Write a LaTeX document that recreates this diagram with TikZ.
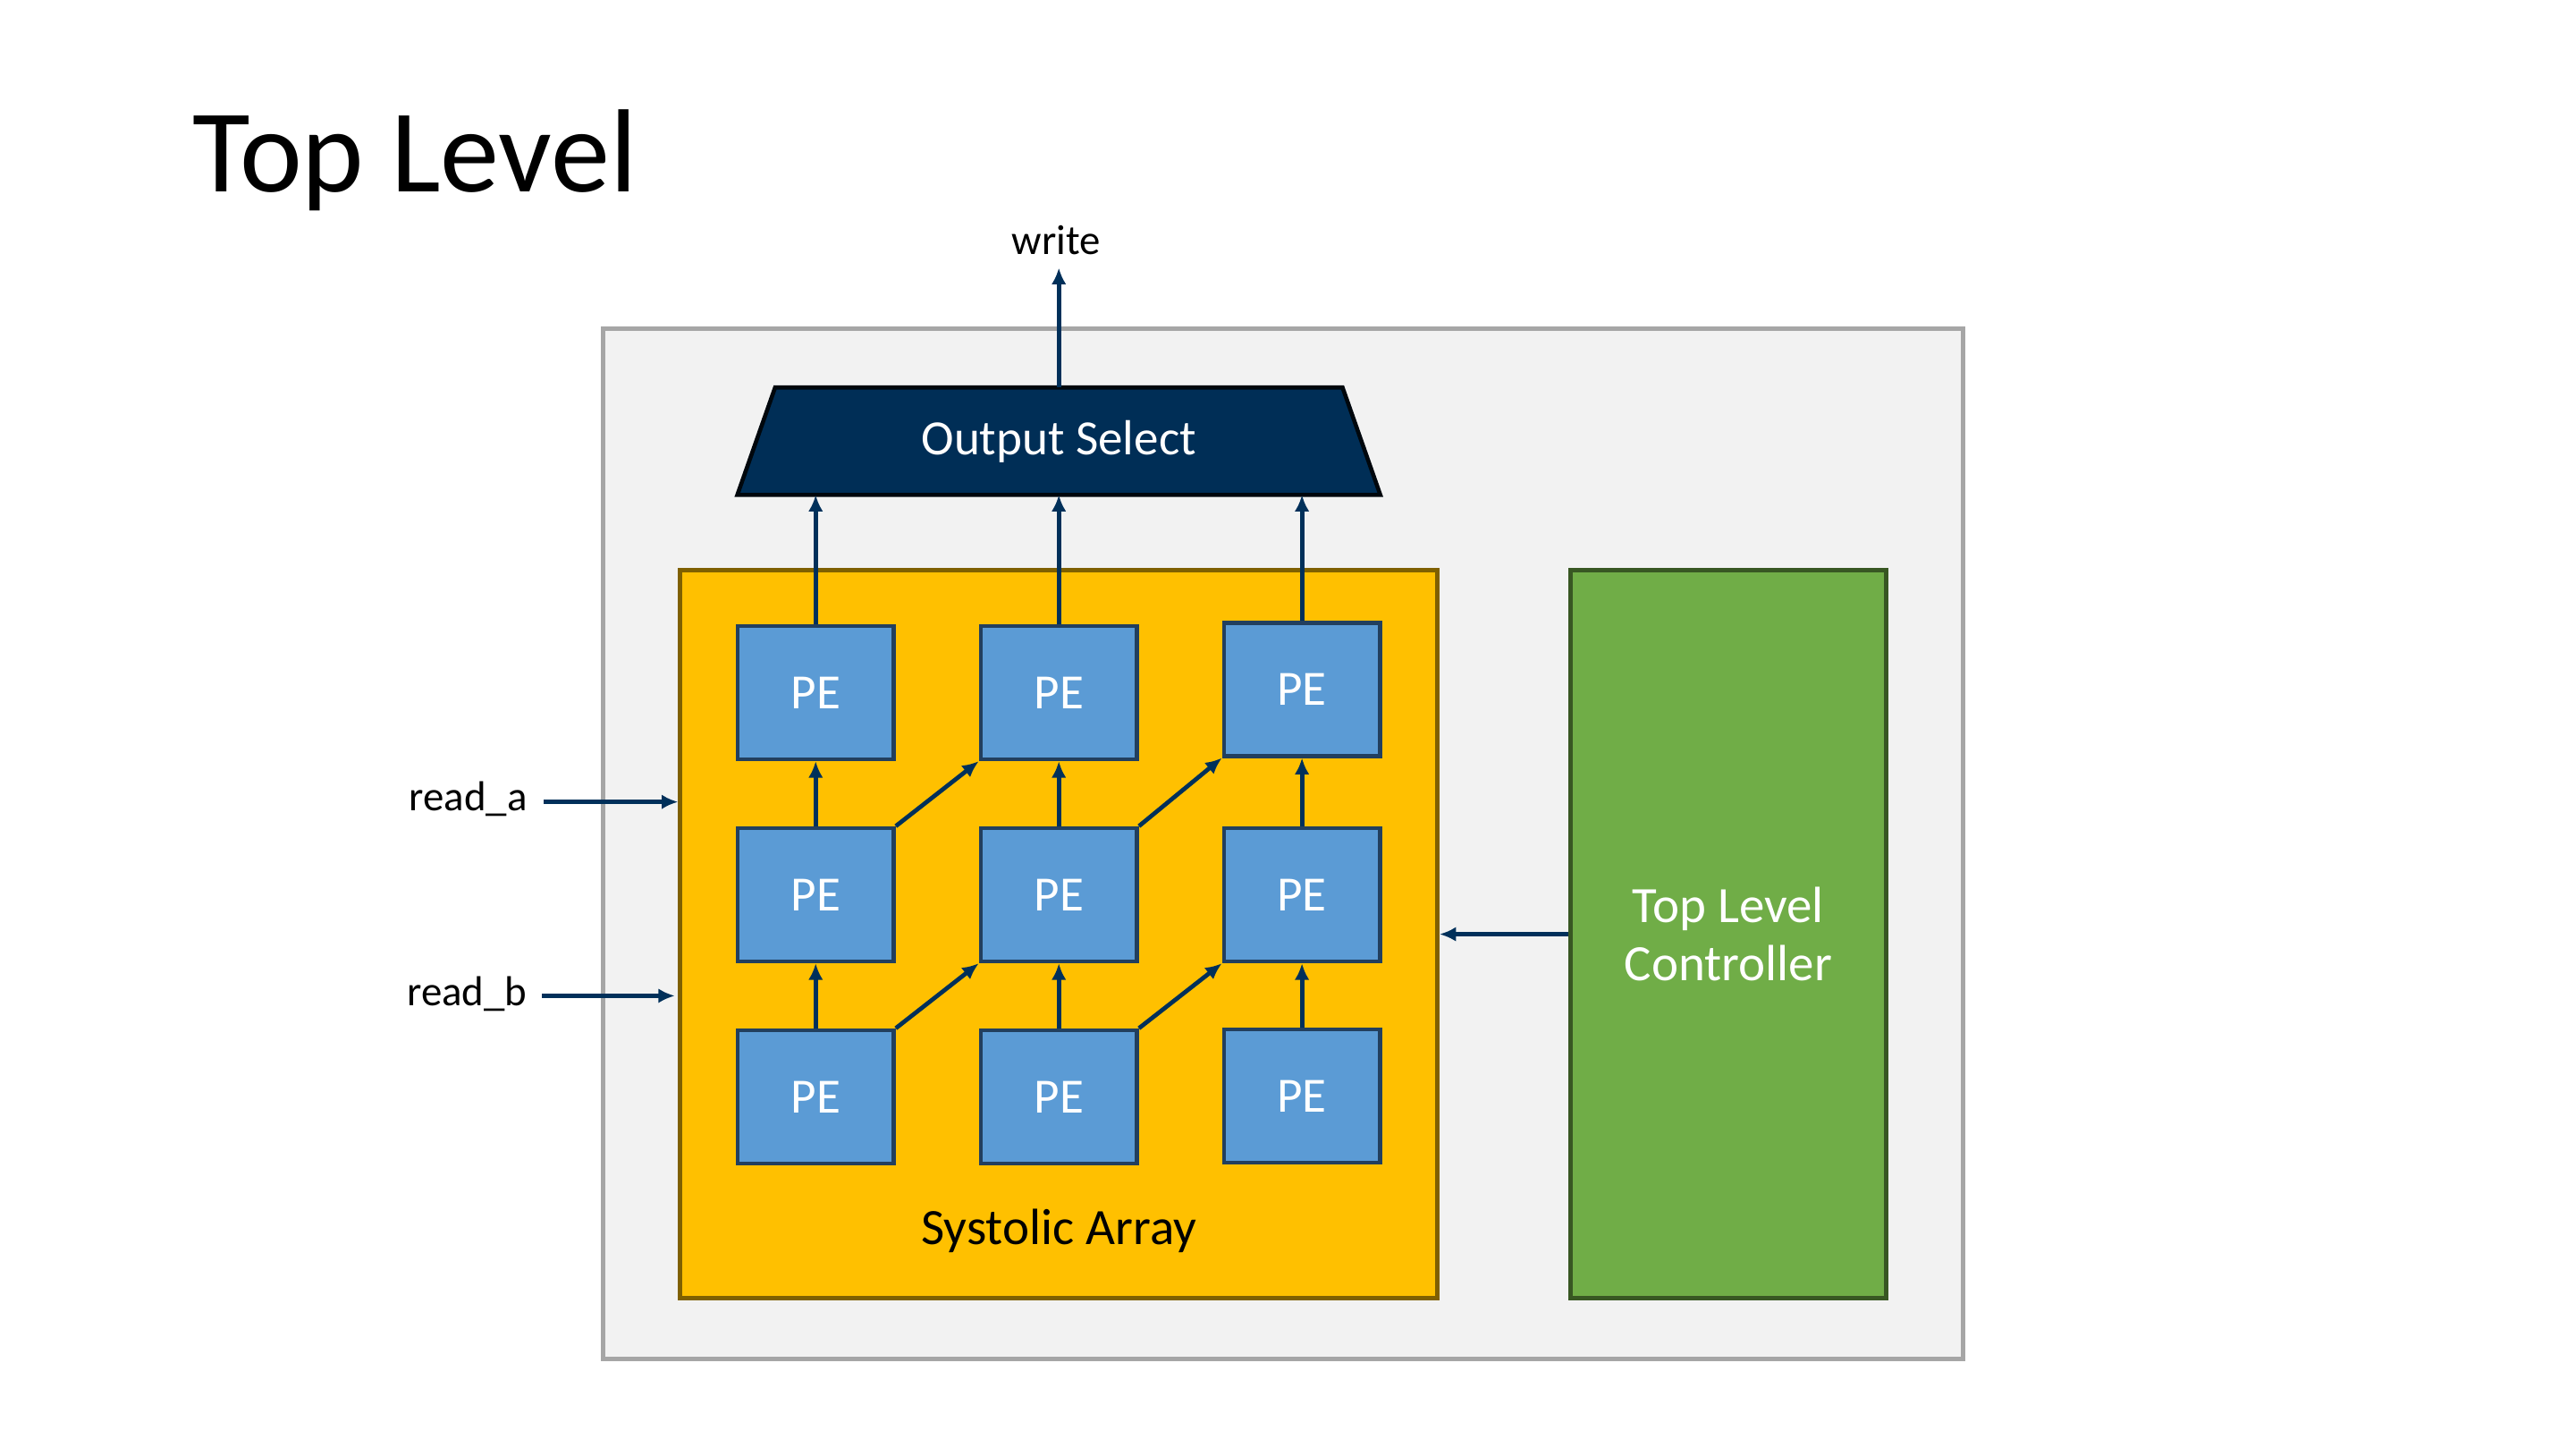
\documentclass[tikz,border=0pt]{standalone}
\usepackage{fontspec}
\setmainfont{Carlito}
\usetikzlibrary{arrows.meta}
\definecolor{navy}{HTML}{00305A}
\definecolor{osfill}{HTML}{002E56}
\definecolor{pefill}{HTML}{5B9BD5}
\definecolor{peborder}{HTML}{223F5E}
\definecolor{safill}{HTML}{FFC000}
\definecolor{saborder}{HTML}{7F6000}
\definecolor{tcfill}{HTML}{70AD47}
\definecolor{tcborder}{HTML}{385723}
\definecolor{outfill}{HTML}{F2F2F2}
\definecolor{outborder}{HTML}{A6A6A6}
\tikzset{
  pebox/.style={draw=peborder, fill=pefill, line width=2.5pt, minimum width=95pt, minimum height=81pt, inner sep=0pt, text=white, font=\fontsize{30}{36}\selectfont},
  conn/.style={draw=navy, line width=2.6pt, -{Latex[length=10pt,width=9pt]}},
  lbl/.style={font=\fontsize{25.5}{30}\selectfont, text=black, inner sep=0pt},
}
\begin{document}
\begin{tikzpicture}[x=1pt,y=-1pt]
\useasboundingbox (0,0) rectangle (1568,875.7);
\fill[white] (0,0) rectangle (1568,875.7);
% title
\node[anchor=base west, inner sep=0pt, font=\fontsize{72}{80}\selectfont] (title) at (117,117) {Top Level};
% outer box
\node[draw=outborder, fill=outfill, line width=2.5pt, minimum width=828pt, minimum height=627pt, inner sep=0pt] (outer) at (781,513.5) {};
% systolic array
\node[draw=saborder, fill=safill, line width=2.5pt, minimum width=461pt, minimum height=443pt, inner sep=0pt] (sa) at (644.5,568.5) {};
\node[font=\fontsize{31}{36}\selectfont, inner sep=0pt] (salbl) at (644.5,749) {Systolic Array};
% controller
\node[draw=tcborder, fill=tcfill, line width=2.5pt, minimum width=192pt, minimum height=443pt, inner sep=0pt, text=white, align=center, font=\fontsize{31}{35}\selectfont] (tc) at (1052,568.5) {Top Level\\Controller};
% output select
\node[minimum width=391pt, minimum height=65pt, inner sep=0pt] (os) at (644.5,268.5) {};
\draw[draw=black!85!navy, fill=osfill, line width=2.5pt, line join=miter]
  ([xshift=23pt]os.north west) -- ([xshift=-23pt]os.north east) -- (os.south east) -- (os.south west) -- cycle;
\node[text=white, font=\fontsize{30}{36}\selectfont, inner sep=0pt] (oslbl) at (os.center) {Output Select};
% PEs
\node[pebox] (p11) at (496.5,421.5) {PE};
\node[pebox] (p12) at (644.5,421.5) {PE};
\node[pebox] (p13) at (792.5,419.5) {PE};
\node[pebox] (p21) at (496.5,544.5) {PE};
\node[pebox] (p22) at (644.5,544.5) {PE};
\node[pebox] (p23) at (792.5,544.5) {PE};
\node[pebox] (p31) at (496.5,667.5) {PE};
\node[pebox] (p32) at (644.5,667.5) {PE};
\node[pebox] (p33) at (792.5,667) {PE};
% vertical connectors
\foreach \c in {1,2,3}{
  \draw[conn] (p3\c.north) -- (p2\c.south);
  \draw[conn] (p2\c.north) -- (p1\c.south);
  \draw[conn] (p1\c.north) -- (p1\c.north |- os.south);
}
% diagonal connectors
\draw[conn] (p21.north east) -- (p12.south west);
\draw[conn] (p22.north east) -- (p13.south west);
\draw[conn] (p31.north east) -- (p22.south west);
\draw[conn] (p32.north east) -- (p23.south west);
% write
\node[lbl] (write) at (643,146) {write};
\coordinate (wtip) at (644.5,163);
\draw[conn] (os.north) -- (wtip);
% reads
\node[lbl, anchor=east] (ra) at (321,486) {read\_a};
\coordinate (ras) at (331,488);
\draw[conn] (ras) -- (ras -| sa.west);
\node[lbl, anchor=east] (rb) at (321,605) {read\_b};
\coordinate (rbs) at (330,606);
\draw[conn] (rbs) -- ([xshift=-2pt]rbs -| sa.west);
% controller to array
\draw[conn] (tc.west) -- (sa.east);
\end{tikzpicture}
\end{document}
